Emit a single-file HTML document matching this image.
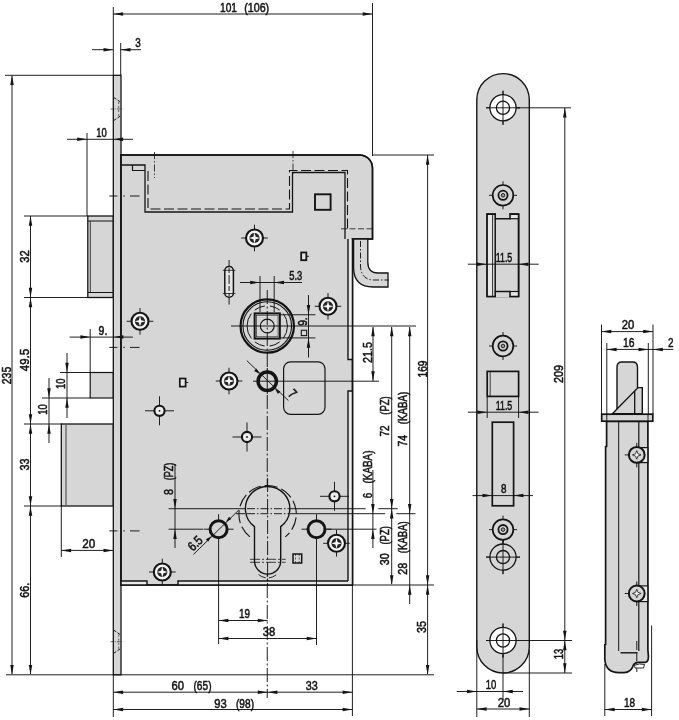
<!DOCTYPE html>
<html><head><meta charset="utf-8"><title>Lock drawing</title>
<style>
html,body{margin:0;padding:0;background:#fff;}
body{width:679px;height:720px;overflow:hidden;}
svg{display:block;filter:grayscale(1);}
text{font-family:"Liberation Sans",sans-serif;fill:#141414;stroke:#141414;stroke-width:0.55px;}
</style></head><body>
<svg width="679" height="720" viewBox="0 0 679 720">
<rect x="0" y="0" width="679" height="720" fill="#ffffff"/>
<rect x="87.8" y="216" width="25.5" height="81.5" rx="0" fill="#d6d6d6" stroke="#141414" stroke-width="1.3"/>
<line x1="88" y1="221" x2="113" y2="221" stroke="#141414" stroke-width="1.0" stroke-linecap="butt"/>
<line x1="88" y1="292.5" x2="113" y2="292.5" stroke="#141414" stroke-width="1.0" stroke-linecap="butt"/>
<line x1="90.3" y1="221" x2="90.3" y2="292.5" stroke="#141414" stroke-width="0.8" stroke-linecap="butt"/>
<rect x="90.2" y="372.5" width="23.099999999999994" height="25.5" rx="0" fill="#d6d6d6" stroke="#141414" stroke-width="1.2"/>
<rect x="61.3" y="424" width="52.0" height="82" rx="0" fill="#d6d6d6" stroke="#141414" stroke-width="1.3"/>
<line x1="66" y1="425" x2="66" y2="505" stroke="#141414" stroke-width="0.8" stroke-linecap="butt"/>
<rect x="113.3" y="75.3" width="7.700000000000003" height="599.5" rx="0" fill="#d6d6d6" stroke="#141414" stroke-width="1.3"/>
<path d="M121.0,155.0 L359.5,155.0 A13,13 0 0 1 372.5,168.0 L372.5,239 L352.5,239 L352.5,585.0 L121.0,585.0 Z" fill="#d6d6d6" stroke="#141414" stroke-width="1.5" stroke-linejoin="miter"/>
<rect x="348.0" y="239.5" width="4.5" height="120.0" fill="#e9e9e9"/>
<rect x="348.0" y="391" width="4.5" height="194.0" fill="#e9e9e9"/>
<rect x="121.0" y="581" width="26.0" height="4" fill="#e9e9e9"/>
<rect x="178" y="581" width="174.5" height="4" fill="#e9e9e9"/>
<path d="M348.0,239 L348.0,359.5 L352.5,359.5" fill="none" stroke="#141414" stroke-width="1.4" stroke-linejoin="miter"/>
<path d="M352.5,391 L348.0,391 L348.0,581" fill="none" stroke="#141414" stroke-width="1.4" stroke-linejoin="miter"/>
<path d="M121.0,581 L147,581 L147,585.0" fill="none" stroke="#141414" stroke-width="1.4" stroke-linejoin="miter"/>
<path d="M178,585.0 L178,581 L348.0,581" fill="none" stroke="#141414" stroke-width="1.4" stroke-linejoin="miter"/>
<path d="M121.0,155.0 L359.5,155.0 A13,13 0 0 1 372.5,168.0 L372.5,239 L352.5,239 L352.5,585.0 L121.0,585.0 Z" fill="none" stroke="#141414" stroke-width="1.5" stroke-linejoin="miter"/>
<path d="M121.0,165 L145,165 L145,212 L292.5,212 L292.5,172.5 L345,172.5 L345,239" fill="none" stroke="#141414" stroke-width="1.3" stroke-linejoin="miter"/>
<path d="M132.5,165 L132.5,170.5 L145,170.5" fill="none" stroke="#141414" stroke-width="1.2" stroke-linejoin="miter"/>
<path d="M148,171 L148,209 L289.5,209 L289.5,170.5 L347.5,170.5 L347.5,229" fill="none" stroke="#141414" stroke-width="1.1" stroke-dasharray="10 3.5" stroke-linejoin="miter"/>
<line x1="154.5" y1="152" x2="154.5" y2="178" stroke="#141414" stroke-width="0.8" stroke-dasharray="7 2 1.5 2" stroke-linecap="butt"/>
<line x1="293" y1="151" x2="293" y2="176" stroke="#141414" stroke-width="0.8" stroke-dasharray="7 2 1.5 2" stroke-linecap="butt"/>
<line x1="341" y1="228.8" x2="372" y2="228.8" stroke="#141414" stroke-width="0.8" stroke-dasharray="6 2.5" stroke-linecap="butt"/>
<path d="M353.6,239 L353.6,268 Q354,287 373,287 L388,287 L388,273 L378,273 Q367.8,273 367.8,262 L367.8,239 Z" fill="#d6d6d6" stroke="#141414" stroke-width="1.3" stroke-linejoin="miter"/>
<path d="M360.5,241 L360.5,266 Q361,280 374,280 L389,280" fill="none" stroke="#141414" stroke-width="0.95" stroke-dasharray="6 2 1.5 2" stroke-linejoin="miter"/>
<rect x="315" y="194.3" width="15.600000000000023" height="15.5" rx="0" fill="#d6d6d6" stroke="#141414" stroke-width="1.9"/>
<rect x="301.2" y="252.5" width="5.100000000000023" height="7.699999999999989" rx="0" fill="#e6e6e6" stroke="#141414" stroke-width="1.8"/>
<line x1="306.3" y1="256.3" x2="309" y2="256.3" stroke="#141414" stroke-width="0.95" stroke-linecap="butt"/>
<line x1="229.1" y1="260" x2="229.1" y2="304.6" stroke="#141414" stroke-width="0.95" stroke-linecap="butt"/>
<rect x="224.8" y="266.5" width="8.599999999999994" height="30.69999999999999" rx="4.3" fill="#e6e6e6" stroke="#141414" stroke-width="1.5"/>
<line x1="229.1" y1="268" x2="229.1" y2="296" stroke="#141414" stroke-width="0.95" stroke-dasharray="5 2 9 2 5 2" stroke-linecap="butt"/>
<line x1="222.8" y1="270.3" x2="235.4" y2="270.3" stroke="#141414" stroke-width="0.8" stroke-linecap="butt"/>
<line x1="222.8" y1="293.5" x2="235.4" y2="293.5" stroke="#141414" stroke-width="0.8" stroke-linecap="butt"/>
<line x1="241.2" y1="238" x2="267.8" y2="238" stroke="#141414" stroke-width="0.95" stroke-linecap="butt"/>
<line x1="254.5" y1="224.7" x2="254.5" y2="251.3" stroke="#141414" stroke-width="0.95" stroke-linecap="butt"/>
<circle cx="254.5" cy="238" r="8.5" fill="#f4f4f4" stroke="#141414" stroke-width="2.1"/>
<circle cx="254.5" cy="238" r="5.1" fill="#262626"/>
<path d="M254.5,232.6 L255.65,236.85 L259.9,238 L255.65,239.15 L254.5,243.4 L253.35,239.15 L249.1,238 L253.35,236.85 Z" fill="#fafafa"/>
<line x1="126.7" y1="321.3" x2="153.3" y2="321.3" stroke="#141414" stroke-width="0.95" stroke-linecap="butt"/>
<line x1="140" y1="308.0" x2="140" y2="334.6" stroke="#141414" stroke-width="0.95" stroke-linecap="butt"/>
<circle cx="140" cy="321.3" r="8.5" fill="#f4f4f4" stroke="#141414" stroke-width="2.1"/>
<circle cx="140" cy="321.3" r="5.1" fill="#262626"/>
<path d="M140,315.90000000000003 L141.15,320.15000000000003 L145.4,321.3 L141.15,322.45 L140,326.7 L138.85,322.45 L134.6,321.3 L138.85,320.15000000000003 Z" fill="#fafafa"/>
<line x1="314.7" y1="306.3" x2="341.3" y2="306.3" stroke="#141414" stroke-width="0.95" stroke-linecap="butt"/>
<line x1="328" y1="293.0" x2="328" y2="319.6" stroke="#141414" stroke-width="0.95" stroke-linecap="butt"/>
<circle cx="328" cy="306.3" r="8.5" fill="#f4f4f4" stroke="#141414" stroke-width="2.1"/>
<circle cx="328" cy="306.3" r="5.1" fill="#262626"/>
<path d="M328,300.90000000000003 L329.15,305.15000000000003 L333.4,306.3 L329.15,307.45 L328,311.7 L326.85,307.45 L322.6,306.3 L326.85,305.15000000000003 Z" fill="#fafafa"/>
<line x1="215.7" y1="381" x2="242.3" y2="381" stroke="#141414" stroke-width="0.95" stroke-linecap="butt"/>
<line x1="229" y1="367.7" x2="229" y2="394.3" stroke="#141414" stroke-width="0.95" stroke-linecap="butt"/>
<circle cx="229" cy="381" r="8.5" fill="#f4f4f4" stroke="#141414" stroke-width="2.1"/>
<circle cx="229" cy="381" r="5.1" fill="#262626"/>
<path d="M229,375.6 L230.15,379.85 L234.4,381 L230.15,382.15 L229,386.4 L227.85,382.15 L223.6,381 L227.85,379.85 Z" fill="#fafafa"/>
<line x1="323.2" y1="543.3" x2="349.8" y2="543.3" stroke="#141414" stroke-width="0.95" stroke-linecap="butt"/>
<line x1="336.5" y1="530.0" x2="336.5" y2="556.5999999999999" stroke="#141414" stroke-width="0.95" stroke-linecap="butt"/>
<circle cx="336.5" cy="543.3" r="8.5" fill="#f4f4f4" stroke="#141414" stroke-width="2.1"/>
<circle cx="336.5" cy="543.3" r="5.1" fill="#262626"/>
<path d="M336.5,537.9 L337.65,542.15 L341.9,543.3 L337.65,544.4499999999999 L336.5,548.6999999999999 L335.35,544.4499999999999 L331.1,543.3 L335.35,542.15 Z" fill="#fafafa"/>
<line x1="149.0" y1="572" x2="175.60000000000002" y2="572" stroke="#141414" stroke-width="0.95" stroke-linecap="butt"/>
<line x1="162.3" y1="558.7" x2="162.3" y2="585.3" stroke="#141414" stroke-width="0.95" stroke-linecap="butt"/>
<circle cx="162.3" cy="572" r="8.5" fill="#f4f4f4" stroke="#141414" stroke-width="2.1"/>
<circle cx="162.3" cy="572" r="5.1" fill="#262626"/>
<path d="M162.3,566.6 L163.45000000000002,570.85 L167.70000000000002,572 L163.45000000000002,573.15 L162.3,577.4 L161.15,573.15 L156.9,572 L161.15,570.85 Z" fill="#fafafa"/>
<circle cx="267.25" cy="326.0" r="26.7" fill="#d6d6d6" stroke="#141414" stroke-width="2.2"/>
<circle cx="267.25" cy="326.0" r="24.3" fill="none" stroke="#141414" stroke-width="1.1"/>
<path d="M283.17,313.56 A20.2,20.2 0 0 1 283.17,338.44" fill="none" stroke="#141414" stroke-width="1.0" stroke-linejoin="miter"/>
<path d="M279.69,341.92 A20.2,20.2 0 0 1 254.81,341.92" fill="none" stroke="#141414" stroke-width="1.0" stroke-dasharray="11 5" stroke-linejoin="miter"/>
<path d="M251.33,338.44 A20.2,20.2 0 0 1 251.33,313.56" fill="none" stroke="#141414" stroke-width="1.0" stroke-linejoin="miter"/>
<path d="M254.81,310.08 A20.2,20.2 0 0 1 279.69,310.08" fill="none" stroke="#141414" stroke-width="1.0" stroke-dasharray="11 5" stroke-linejoin="miter"/>
<rect x="254.65" y="313.4" width="25.200000000000017" height="25.200000000000045" rx="0" fill="#d6d6d6" stroke="#141414" stroke-width="2.0"/>
<rect x="256.45" y="315.2" width="21.600000000000023" height="21.600000000000023" rx="0" fill="none" stroke="#141414" stroke-width="0.6"/>
<circle cx="267.25" cy="326.0" r="6.9" fill="none" stroke="#141414" stroke-width="1.2"/>
<line x1="267.25" y1="290" x2="267.25" y2="698" stroke="#141414" stroke-width="0.95" stroke-dasharray="14 2.5 2 2.5" stroke-linecap="butt"/>
<line x1="231" y1="326.0" x2="416" y2="326.0" stroke="#141414" stroke-width="0.95" stroke-linecap="butt"/>
<rect x="283.6" y="361.8" width="41.39999999999998" height="52.5" rx="7" fill="#d6d6d6" stroke="#141414" stroke-width="1.2"/>
<circle cx="267.25" cy="381.2" r="9.2" fill="#d6d6d6" stroke="#141414" stroke-width="3.4"/>
<line x1="253" y1="381.2" x2="379" y2="381.2" stroke="#141414" stroke-width="0.95" stroke-linecap="butt"/>
<line x1="267.25" y1="368" x2="267.25" y2="394" stroke="#141414" stroke-width="0.95" stroke-linecap="butt"/>
<line x1="246.8" y1="360.6" x2="288.4" y2="400.6" stroke="#141414" stroke-width="0.95" stroke-linecap="butt"/>
<polygon points="259.65,373.90 254.15,370.96 256.51,368.51" fill="#141414"/>
<polygon points="274.85,388.50 280.35,391.44 277.99,393.89" fill="#141414"/>
<line x1="145.0" y1="410.8" x2="174.0" y2="410.8" stroke="#141414" stroke-width="0.95" stroke-linecap="butt"/>
<line x1="159.5" y1="396.3" x2="159.5" y2="425.3" stroke="#141414" stroke-width="0.95" stroke-linecap="butt"/>
<circle cx="159.5" cy="410.8" r="5.1" fill="#ececec" stroke="#141414" stroke-width="2.1"/>
<circle cx="159.5" cy="410.8" r="0.9" fill="#141414"/>
<line x1="232.5" y1="437" x2="261.5" y2="437" stroke="#141414" stroke-width="0.95" stroke-linecap="butt"/>
<line x1="247" y1="422.5" x2="247" y2="451.5" stroke="#141414" stroke-width="0.95" stroke-linecap="butt"/>
<circle cx="247" cy="437" r="5.1" fill="#ececec" stroke="#141414" stroke-width="2.1"/>
<circle cx="247" cy="437" r="0.9" fill="#141414"/>
<line x1="320.0" y1="496.3" x2="349.0" y2="496.3" stroke="#141414" stroke-width="0.95" stroke-linecap="butt"/>
<line x1="334.5" y1="481.8" x2="334.5" y2="510.8" stroke="#141414" stroke-width="0.95" stroke-linecap="butt"/>
<circle cx="334.5" cy="496.3" r="5.1" fill="#ececec" stroke="#141414" stroke-width="2.1"/>
<circle cx="334.5" cy="496.3" r="0.9" fill="#141414"/>
<rect x="179.8" y="378.5" width="5.799999999999983" height="8.100000000000023" rx="0" fill="#e6e6e6" stroke="#141414" stroke-width="1.7"/>
<line x1="185.6" y1="382.5" x2="188.3" y2="382.5" stroke="#141414" stroke-width="0.95" stroke-linecap="butt"/>
<rect x="293" y="554" width="8.699999999999989" height="9" rx="0" fill="#d6d6d6" stroke="#141414" stroke-width="1.5"/>
<line x1="295.5" y1="554" x2="295.5" y2="563" stroke="#141414" stroke-width="0.6" stroke-dasharray="2 1.5" stroke-linecap="butt"/>
<line x1="299.2" y1="554" x2="299.2" y2="563" stroke="#141414" stroke-width="0.6" stroke-dasharray="2 1.5" stroke-linecap="butt"/>
<path d="M254.50,526.62 A22.2,22.2 0 1 1 280.70,526.62 L280.70,561.0 A13.1,13.1 0 0 1 254.50,561.0 Z" fill="#d6d6d6" stroke="#141414" stroke-width="1.4" stroke-linejoin="miter"/>
<path d="M249.93,536.82 A28.7,28.7 0 1 1 285.27,536.82" fill="none" stroke="#141414" stroke-width="1.1" stroke-dasharray="13 4" stroke-linejoin="miter"/>
<path d="M258.6,574.5 A 13.5 13.5 0 0 0 276.6,574.5" fill="none" stroke="#141414" stroke-width="0.9" stroke-dasharray="8 3" stroke-linejoin="miter"/>
<line x1="250" y1="559.3" x2="285.6" y2="559.3" stroke="#141414" stroke-width="0.8" stroke-dasharray="10 2 2 2" stroke-linecap="butt"/>
<line x1="250" y1="562.3" x2="285.6" y2="562.3" stroke="#141414" stroke-width="0.8" stroke-dasharray="10 2 2 2" stroke-linecap="butt"/>
<line x1="267.6" y1="478" x2="267.6" y2="586" stroke="#141414" stroke-width="0.95" stroke-dasharray="14 2.5 2 2.5" stroke-linecap="butt"/>
<line x1="203.6" y1="529.2" x2="233.6" y2="529.2" stroke="#141414" stroke-width="0.95" stroke-linecap="butt"/>
<line x1="218.6" y1="514.2" x2="218.6" y2="544.2" stroke="#141414" stroke-width="0.95" stroke-linecap="butt"/>
<circle cx="218.6" cy="529.2" r="8.5" fill="#d6d6d6" stroke="#141414" stroke-width="3.0"/>
<line x1="301.5" y1="529.2" x2="331.5" y2="529.2" stroke="#141414" stroke-width="0.95" stroke-linecap="butt"/>
<line x1="316.5" y1="514.2" x2="316.5" y2="544.2" stroke="#141414" stroke-width="0.95" stroke-linecap="butt"/>
<circle cx="316.5" cy="529.2" r="8.5" fill="#d6d6d6" stroke="#141414" stroke-width="3.0"/>
<line x1="168.6" y1="508.7" x2="245" y2="508.7" stroke="#141414" stroke-width="0.95" stroke-linecap="butt"/>
<line x1="290" y1="508.7" x2="365.7" y2="508.7" stroke="#141414" stroke-width="0.95" stroke-linecap="butt"/>
<line x1="247" y1="508.7" x2="289" y2="508.7" stroke="#141414" stroke-width="0.95" stroke-dasharray="8 2 1.5 2" stroke-linecap="butt"/>
<line x1="378.3" y1="508.7" x2="397.7" y2="508.7" stroke="#141414" stroke-width="0.95" stroke-linecap="butt"/>
<line x1="236" y1="513.7" x2="245" y2="513.7" stroke="#141414" stroke-width="0.95" stroke-linecap="butt"/>
<line x1="290" y1="513.7" x2="385.3" y2="513.7" stroke="#141414" stroke-width="0.95" stroke-linecap="butt"/>
<line x1="396.3" y1="513.7" x2="415.4" y2="513.7" stroke="#141414" stroke-width="0.95" stroke-linecap="butt"/>
<line x1="247" y1="513.7" x2="289" y2="513.7" stroke="#141414" stroke-width="0.95" stroke-dasharray="8 2 1.5 2" stroke-linecap="butt"/>
<line x1="168.6" y1="529.2" x2="203" y2="529.2" stroke="#141414" stroke-width="0.95" stroke-linecap="butt"/>
<line x1="327" y1="529.2" x2="376.5" y2="529.2" stroke="#141414" stroke-width="0.95" stroke-linecap="butt"/>
<line x1="110.5" y1="109" x2="123.5" y2="109" stroke="#141414" stroke-width="0.6" stroke-dasharray="3 1.2 1 1.2" stroke-linecap="butt"/>
<line x1="113.8" y1="97.5" x2="120.4" y2="102" stroke="#141414" stroke-width="1.0" stroke-dasharray="3 1.5" stroke-linecap="butt"/>
<line x1="113.8" y1="120.5" x2="120.4" y2="116" stroke="#141414" stroke-width="1.0" stroke-dasharray="3 1.5" stroke-linecap="butt"/>
<line x1="118.7" y1="102" x2="118.7" y2="116" stroke="#141414" stroke-width="0.6" stroke-dasharray="2 2" stroke-linecap="butt"/>
<line x1="110.5" y1="641.7" x2="123.5" y2="641.7" stroke="#141414" stroke-width="0.6" stroke-dasharray="3 1.2 1 1.2" stroke-linecap="butt"/>
<line x1="113.8" y1="630.2" x2="120.4" y2="634.7" stroke="#141414" stroke-width="1.0" stroke-dasharray="3 1.5" stroke-linecap="butt"/>
<line x1="113.8" y1="653.2" x2="120.4" y2="648.7" stroke="#141414" stroke-width="1.0" stroke-dasharray="3 1.5" stroke-linecap="butt"/>
<line x1="118.7" y1="634.7" x2="118.7" y2="648.7" stroke="#141414" stroke-width="0.6" stroke-dasharray="2 2" stroke-linecap="butt"/>
<line x1="109.3" y1="196" x2="117.4" y2="196" stroke="#141414" stroke-width="0.95" stroke-linecap="butt"/>
<line x1="123.3" y1="196" x2="124.8" y2="196" stroke="#141414" stroke-width="0.95" stroke-linecap="butt"/>
<line x1="130" y1="196" x2="139.5" y2="196" stroke="#141414" stroke-width="0.95" stroke-linecap="butt"/>
<line x1="109.3" y1="347.4" x2="117.4" y2="347.4" stroke="#141414" stroke-width="0.95" stroke-linecap="butt"/>
<line x1="123.3" y1="347.4" x2="124.8" y2="347.4" stroke="#141414" stroke-width="0.95" stroke-linecap="butt"/>
<line x1="130" y1="347.4" x2="139.5" y2="347.4" stroke="#141414" stroke-width="0.95" stroke-linecap="butt"/>
<line x1="109.3" y1="530.9" x2="117.4" y2="530.9" stroke="#141414" stroke-width="0.95" stroke-linecap="butt"/>
<line x1="123.3" y1="530.9" x2="124.8" y2="530.9" stroke="#141414" stroke-width="0.95" stroke-linecap="butt"/>
<line x1="130" y1="530.9" x2="139.5" y2="530.9" stroke="#141414" stroke-width="0.95" stroke-linecap="butt"/>
<line x1="113.3" y1="7" x2="113.3" y2="75" stroke="#141414" stroke-width="0.95" stroke-linecap="butt"/>
<line x1="372.5" y1="3" x2="372.5" y2="156" stroke="#141414" stroke-width="0.95" stroke-linecap="butt"/>
<line x1="113.3" y1="14" x2="372.5" y2="14" stroke="#141414" stroke-width="0.95" stroke-linecap="butt"/>
<polygon points="113.30,14.00 123.10,12.25 123.10,15.75" fill="#141414"/>
<polygon points="372.50,14.00 362.70,15.75 362.70,12.25" fill="#141414"/>
<text x="228.5" y="11.5" font-size="13.2" text-anchor="middle" textLength="17" lengthAdjust="spacingAndGlyphs" xml:space="preserve">101</text>
<text x="256.7" y="11.5" font-size="13.2" text-anchor="middle" textLength="25" lengthAdjust="spacingAndGlyphs" xml:space="preserve">(106)</text>
<line x1="120.7" y1="43" x2="120.7" y2="75" stroke="#141414" stroke-width="0.95" stroke-linecap="butt"/>
<line x1="92" y1="49.7" x2="113" y2="49.7" stroke="#141414" stroke-width="0.95" stroke-linecap="butt"/>
<line x1="120.7" y1="49.7" x2="141" y2="49.7" stroke="#141414" stroke-width="0.95" stroke-linecap="butt"/>
<polygon points="113.30,49.70 103.50,51.45 103.50,47.95" fill="#141414"/>
<polygon points="120.70,49.70 130.50,47.95 130.50,51.45" fill="#141414"/>
<text x="138" y="46.5" font-size="13.2" text-anchor="middle" textLength="5.5" lengthAdjust="spacingAndGlyphs" xml:space="preserve">3</text>
<line x1="5" y1="75.3" x2="113" y2="75.3" stroke="#141414" stroke-width="0.95" stroke-linecap="butt"/>
<line x1="6" y1="674.8" x2="434" y2="674.8" stroke="#141414" stroke-width="0.95" stroke-linecap="butt"/>
<line x1="12" y1="76" x2="12" y2="674" stroke="#141414" stroke-width="0.95" stroke-linecap="butt"/>
<polygon points="12.00,75.30 13.75,85.10 10.25,85.10" fill="#141414"/>
<polygon points="12.00,674.80 10.25,665.00 13.75,665.00" fill="#141414"/>
<text x="11.0" y="375.5" font-size="13.2" text-anchor="middle" transform="rotate(-90 11.0 375.5)" textLength="17.5" lengthAdjust="spacingAndGlyphs" xml:space="preserve">235</text>
<line x1="87" y1="133" x2="87" y2="216" stroke="#141414" stroke-width="0.95" stroke-linecap="butt"/>
<line x1="67" y1="139.3" x2="133" y2="139.3" stroke="#141414" stroke-width="0.95" stroke-linecap="butt"/>
<polygon points="87.00,139.30 77.20,141.05 77.20,137.55" fill="#141414"/>
<circle cx="121" cy="139.3" r="1.6" fill="#141414"/>
<polygon points="113.30,139.30 123.10,137.55 123.10,141.05" fill="#141414"/>
<text x="101.5" y="137" font-size="13.2" text-anchor="middle" textLength="10.5" lengthAdjust="spacingAndGlyphs" xml:space="preserve">10</text>
<line x1="24" y1="216" x2="88" y2="216" stroke="#141414" stroke-width="0.95" stroke-linecap="butt"/>
<line x1="24" y1="297.5" x2="88" y2="297.5" stroke="#141414" stroke-width="0.95" stroke-linecap="butt"/>
<line x1="30.5" y1="216" x2="30.5" y2="674" stroke="#141414" stroke-width="0.95" stroke-linecap="butt"/>
<polygon points="30.50,216.00 32.25,225.80 28.75,225.80" fill="#141414"/>
<polygon points="30.50,297.50 28.75,287.70 32.25,287.70" fill="#141414"/>
<polygon points="30.50,297.50 32.25,307.30 28.75,307.30" fill="#141414"/>
<text x="28.8" y="256.5" font-size="13.2" text-anchor="middle" transform="rotate(-90 28.8 256.5)" textLength="12.5" lengthAdjust="spacingAndGlyphs" xml:space="preserve">32</text>
<polygon points="30.50,424.00 28.75,414.20 32.25,414.20" fill="#141414"/>
<polygon points="30.50,424.00 32.25,433.80 28.75,433.80" fill="#141414"/>
<polygon points="30.50,506.00 28.75,496.20 32.25,496.20" fill="#141414"/>
<polygon points="30.50,506.00 32.25,515.80 28.75,515.80" fill="#141414"/>
<polygon points="30.50,674.80 28.75,665.00 32.25,665.00" fill="#141414"/>
<line x1="24" y1="424" x2="62" y2="424" stroke="#141414" stroke-width="0.95" stroke-linecap="butt"/>
<line x1="24" y1="506" x2="62" y2="506" stroke="#141414" stroke-width="0.95" stroke-linecap="butt"/>
<text x="28.8" y="360" font-size="13.2" text-anchor="middle" transform="rotate(-90 28.8 360)" textLength="22.5" lengthAdjust="spacingAndGlyphs" xml:space="preserve">49.5</text>
<text x="28.8" y="464.6" font-size="13.2" text-anchor="middle" transform="rotate(-90 28.8 464.6)" textLength="12" lengthAdjust="spacingAndGlyphs" xml:space="preserve">33</text>
<text x="28.8" y="590.3" font-size="13.2" text-anchor="middle" transform="rotate(-90 28.8 590.3)" textLength="15" lengthAdjust="spacingAndGlyphs" xml:space="preserve">66.</text>
<line x1="90.2" y1="329" x2="90.2" y2="372" stroke="#141414" stroke-width="0.95" stroke-linecap="butt"/>
<line x1="69.6" y1="337.1" x2="132.9" y2="337.1" stroke="#141414" stroke-width="0.95" stroke-linecap="butt"/>
<polygon points="90.20,337.10 80.40,338.85 80.40,335.35" fill="#141414"/>
<polygon points="113.60,337.10 123.40,335.35 123.40,338.85" fill="#141414"/>
<text x="103" y="335.3" font-size="13.2" text-anchor="middle" textLength="8.8" lengthAdjust="spacingAndGlyphs" xml:space="preserve">9.</text>
<line x1="60" y1="372.5" x2="90" y2="372.5" stroke="#141414" stroke-width="0.95" stroke-linecap="butt"/>
<line x1="42" y1="398" x2="90" y2="398" stroke="#141414" stroke-width="0.95" stroke-linecap="butt"/>
<line x1="67" y1="353" x2="67" y2="418" stroke="#141414" stroke-width="0.95" stroke-linecap="butt"/>
<polygon points="67.00,372.50 65.25,362.70 68.75,362.70" fill="#141414"/>
<polygon points="67.00,398.00 68.75,407.80 65.25,407.80" fill="#141414"/>
<line x1="49" y1="378" x2="49" y2="443" stroke="#141414" stroke-width="0.95" stroke-linecap="butt"/>
<polygon points="49.00,398.00 47.25,388.20 50.75,388.20" fill="#141414"/>
<polygon points="49.00,424.00 50.75,433.80 47.25,433.80" fill="#141414"/>
<text x="65.3" y="383.8" font-size="13.2" text-anchor="middle" transform="rotate(-90 65.3 383.8)" textLength="10.5" lengthAdjust="spacingAndGlyphs" xml:space="preserve">10</text>
<text x="47.2" y="409.5" font-size="13.2" text-anchor="middle" transform="rotate(-90 47.2 409.5)" textLength="10.5" lengthAdjust="spacingAndGlyphs" xml:space="preserve">10</text>
<line x1="61.3" y1="506" x2="61.3" y2="557" stroke="#141414" stroke-width="0.95" stroke-linecap="butt"/>
<line x1="61.3" y1="550.4" x2="113.3" y2="550.4" stroke="#141414" stroke-width="0.95" stroke-linecap="butt"/>
<polygon points="61.30,550.40 71.10,548.65 71.10,552.15" fill="#141414"/>
<polygon points="113.30,550.40 103.50,552.15 103.50,548.65" fill="#141414"/>
<text x="88.7" y="548.2" font-size="13.2" text-anchor="middle" textLength="13" lengthAdjust="spacingAndGlyphs" xml:space="preserve">20</text>
<line x1="260" y1="276" x2="260" y2="312" stroke="#141414" stroke-width="0.95" stroke-linecap="butt"/>
<line x1="274.2" y1="276" x2="274.2" y2="312" stroke="#141414" stroke-width="0.95" stroke-linecap="butt"/>
<line x1="240" y1="282.5" x2="302" y2="282.5" stroke="#141414" stroke-width="0.95" stroke-linecap="butt"/>
<polygon points="260.00,282.50 250.20,284.25 250.20,280.75" fill="#141414"/>
<polygon points="274.20,282.50 284.00,280.75 284.00,284.25" fill="#141414"/>
<text x="295.8" y="280" font-size="13.2" text-anchor="middle" textLength="13" lengthAdjust="spacingAndGlyphs" xml:space="preserve">5.3</text>
<line x1="280" y1="314.75" x2="315.4" y2="314.75" stroke="#141414" stroke-width="0.95" stroke-linecap="butt"/>
<line x1="280" y1="337.9" x2="315.4" y2="337.9" stroke="#141414" stroke-width="0.95" stroke-linecap="butt"/>
<line x1="308.5" y1="295" x2="308.5" y2="357.5" stroke="#141414" stroke-width="0.95" stroke-linecap="butt"/>
<polygon points="308.50,314.75 306.75,304.95 310.25,304.95" fill="#141414"/>
<polygon points="308.50,337.90 310.25,347.70 306.75,347.70" fill="#141414"/>
<text x="307.0" y="325.8" font-size="13.2" text-anchor="start" transform="rotate(-90 307.0 325.8)" textLength="8.5" lengthAdjust="spacingAndGlyphs" xml:space="preserve">9.</text>
<rect x="301.3" y="330.3" width="5.399999999999977" height="5.300000000000011" rx="0" fill="none" stroke="#141414" stroke-width="1.1"/>
<text x="289.3" y="396.8" font-size="13.2" text-anchor="middle" transform="rotate(45 289.3 396.8)" textLength="6" lengthAdjust="spacingAndGlyphs" xml:space="preserve">7</text>
<line x1="373" y1="327" x2="373" y2="381" stroke="#141414" stroke-width="0.95" stroke-linecap="butt"/>
<polygon points="373.00,326.50 374.75,336.30 371.25,336.30" fill="#141414"/>
<polygon points="373.00,381.00 371.25,371.20 374.75,371.20" fill="#141414"/>
<text x="371.5" y="352.5" font-size="13.2" text-anchor="middle" transform="rotate(-90 371.5 352.5)" textLength="21" lengthAdjust="spacingAndGlyphs" xml:space="preserve">21.5</text>
<line x1="391.7" y1="327" x2="391.7" y2="584" stroke="#141414" stroke-width="0.95" stroke-linecap="butt"/>
<polygon points="391.70,326.50 393.45,336.30 389.95,336.30" fill="#141414"/>
<polygon points="391.70,508.70 389.95,498.90 393.45,498.90" fill="#141414"/>
<polygon points="391.70,508.70 393.45,518.50 389.95,518.50" fill="#141414"/>
<polygon points="391.70,585.00 389.95,575.20 393.45,575.20" fill="#141414"/>
<line x1="409.7" y1="327" x2="409.7" y2="604" stroke="#141414" stroke-width="0.95" stroke-linecap="butt"/>
<polygon points="409.70,326.50 411.45,336.30 407.95,336.30" fill="#141414"/>
<polygon points="409.70,513.70 407.95,503.90 411.45,503.90" fill="#141414"/>
<polygon points="409.70,585.00 411.45,594.80 407.95,594.80" fill="#141414"/>
<line x1="373" y1="155" x2="434" y2="155" stroke="#141414" stroke-width="0.95" stroke-linecap="butt"/>
<line x1="352" y1="585" x2="434" y2="585" stroke="#141414" stroke-width="0.95" stroke-linecap="butt"/>
<line x1="427.6" y1="155" x2="427.6" y2="674" stroke="#141414" stroke-width="0.95" stroke-linecap="butt"/>
<polygon points="427.60,155.00 429.35,164.80 425.85,164.80" fill="#141414"/>
<polygon points="427.60,585.00 425.85,575.20 429.35,575.20" fill="#141414"/>
<polygon points="427.60,585.00 429.35,594.80 425.85,594.80" fill="#141414"/>
<polygon points="427.60,674.80 425.85,665.00 429.35,665.00" fill="#141414"/>
<text x="426.5" y="369" font-size="13.2" text-anchor="middle" transform="rotate(-90 426.5 369)" textLength="17" lengthAdjust="spacingAndGlyphs" xml:space="preserve">169</text>
<text x="389.3" y="431" font-size="13.2" text-anchor="middle" transform="rotate(-90 389.3 431)" textLength="11" lengthAdjust="spacingAndGlyphs" xml:space="preserve">72</text>
<text x="389.3" y="405.5" font-size="13.2" text-anchor="middle" transform="rotate(-90 389.3 405.5)" textLength="18.5" lengthAdjust="spacingAndGlyphs" xml:space="preserve">(PZ)</text>
<text x="407.3" y="440.7" font-size="13.2" text-anchor="middle" transform="rotate(-90 407.3 440.7)" textLength="11.5" lengthAdjust="spacingAndGlyphs" xml:space="preserve">74</text>
<text x="407.3" y="408" font-size="13.2" text-anchor="middle" transform="rotate(-90 407.3 408)" textLength="32.5" lengthAdjust="spacingAndGlyphs" xml:space="preserve">(KABA)</text>
<line x1="372.9" y1="470" x2="372.9" y2="548" stroke="#141414" stroke-width="0.95" stroke-linecap="butt"/>
<polygon points="372.90,513.70 371.15,503.90 374.65,503.90" fill="#141414"/>
<polygon points="372.90,529.20 374.65,539.00 371.15,539.00" fill="#141414"/>
<text x="371.5" y="495.5" font-size="13.2" text-anchor="middle" transform="rotate(-90 371.5 495.5)" textLength="5.5" lengthAdjust="spacingAndGlyphs" xml:space="preserve">6</text>
<text x="371.5" y="467" font-size="13.2" text-anchor="middle" transform="rotate(-90 371.5 467)" textLength="33" lengthAdjust="spacingAndGlyphs" xml:space="preserve">(KABA)</text>
<text x="389.3" y="559.3" font-size="13.2" text-anchor="middle" transform="rotate(-90 389.3 559.3)" textLength="12" lengthAdjust="spacingAndGlyphs" xml:space="preserve">30</text>
<text x="389.3" y="535.3" font-size="13.2" text-anchor="middle" transform="rotate(-90 389.3 535.3)" textLength="18.5" lengthAdjust="spacingAndGlyphs" xml:space="preserve">(PZ)</text>
<text x="407.3" y="568.7" font-size="13.2" text-anchor="middle" transform="rotate(-90 407.3 568.7)" textLength="12" lengthAdjust="spacingAndGlyphs" xml:space="preserve">28</text>
<text x="407.3" y="537.2" font-size="13.2" text-anchor="middle" transform="rotate(-90 407.3 537.2)" textLength="32" lengthAdjust="spacingAndGlyphs" xml:space="preserve">(KABA)</text>
<text x="425.5" y="627" font-size="13.2" text-anchor="middle" transform="rotate(-90 425.5 627)" textLength="12" lengthAdjust="spacingAndGlyphs" xml:space="preserve">35</text>
<line x1="175" y1="464" x2="175" y2="548" stroke="#141414" stroke-width="0.95" stroke-linecap="butt"/>
<polygon points="175.00,508.80 173.25,499.00 176.75,499.00" fill="#141414"/>
<polygon points="175.00,529.20 176.75,539.00 173.25,539.00" fill="#141414"/>
<text x="172.7" y="492" font-size="13.2" text-anchor="middle" transform="rotate(-90 172.7 492)" textLength="6" lengthAdjust="spacingAndGlyphs" xml:space="preserve">8</text>
<text x="172.7" y="471.5" font-size="13.2" text-anchor="middle" transform="rotate(-90 172.7 471.5)" textLength="17.5" lengthAdjust="spacingAndGlyphs" xml:space="preserve">(PZ)</text>
<line x1="193.4" y1="554.5" x2="238.8" y2="510" stroke="#141414" stroke-width="0.95" stroke-linecap="butt"/>
<polygon points="211.30,536.30 208.20,541.71 205.82,539.28" fill="#141414"/>
<polygon points="225.90,522.10 229.00,516.69 231.38,519.12" fill="#141414"/>
<text x="198.3" y="546.5" font-size="13.2" text-anchor="middle" transform="rotate(-44.4 198.3 546.5)" textLength="15" lengthAdjust="spacingAndGlyphs" xml:space="preserve">6.5</text>
<line x1="218.6" y1="544" x2="218.6" y2="644" stroke="#141414" stroke-width="0.95" stroke-linecap="butt"/>
<line x1="316.5" y1="544" x2="316.5" y2="645" stroke="#141414" stroke-width="0.95" stroke-linecap="butt"/>
<line x1="218.6" y1="620.5" x2="267.6" y2="620.5" stroke="#141414" stroke-width="0.95" stroke-linecap="butt"/>
<polygon points="218.60,620.50 228.40,618.75 228.40,622.25" fill="#141414"/>
<polygon points="267.60,620.50 257.80,622.25 257.80,618.75" fill="#141414"/>
<line x1="218.6" y1="638.5" x2="316.5" y2="638.5" stroke="#141414" stroke-width="0.95" stroke-linecap="butt"/>
<polygon points="218.60,638.50 228.40,636.75 228.40,640.25" fill="#141414"/>
<polygon points="316.50,638.50 306.70,640.25 306.70,636.75" fill="#141414"/>
<text x="244.5" y="618.3" font-size="13.2" text-anchor="middle" textLength="11" lengthAdjust="spacingAndGlyphs" xml:space="preserve">19</text>
<text x="269" y="636.3" font-size="13.2" text-anchor="middle" textLength="12.5" lengthAdjust="spacingAndGlyphs" xml:space="preserve">38</text>
<line x1="113.3" y1="675" x2="113.3" y2="717" stroke="#141414" stroke-width="0.95" stroke-linecap="butt"/>
<line x1="352.4" y1="585" x2="352.4" y2="716" stroke="#141414" stroke-width="0.95" stroke-linecap="butt"/>
<line x1="113.3" y1="692.2" x2="352.4" y2="692.2" stroke="#141414" stroke-width="0.95" stroke-linecap="butt"/>
<polygon points="113.30,692.20 123.10,690.45 123.10,693.95" fill="#141414"/>
<polygon points="267.60,692.20 257.80,693.95 257.80,690.45" fill="#141414"/>
<polygon points="267.60,692.20 277.40,690.45 277.40,693.95" fill="#141414"/>
<polygon points="352.40,692.20 342.60,693.95 342.60,690.45" fill="#141414"/>
<line x1="113.3" y1="709.5" x2="352.4" y2="709.5" stroke="#141414" stroke-width="0.95" stroke-linecap="butt"/>
<polygon points="113.30,709.50 123.10,707.75 123.10,711.25" fill="#141414"/>
<polygon points="352.40,709.50 342.60,711.25 342.60,707.75" fill="#141414"/>
<text x="177.7" y="689.8" font-size="13.2" text-anchor="middle" textLength="12.5" lengthAdjust="spacingAndGlyphs" xml:space="preserve">60</text>
<text x="202.5" y="689.8" font-size="13.2" text-anchor="middle" textLength="18" lengthAdjust="spacingAndGlyphs" xml:space="preserve">(65)</text>
<text x="311.8" y="689.8" font-size="13.2" text-anchor="middle" textLength="12" lengthAdjust="spacingAndGlyphs" xml:space="preserve">33</text>
<text x="220.5" y="707.5" font-size="13.2" text-anchor="middle" textLength="12.5" lengthAdjust="spacingAndGlyphs" xml:space="preserve">93</text>
<text x="245" y="707.5" font-size="13.2" text-anchor="middle" textLength="18" lengthAdjust="spacingAndGlyphs" xml:space="preserve">(98)</text>
<path d="M476.8,99.84999999999997 A26.24999999999997,26.24999999999997 0 0 1 529.3,99.84999999999997 L529.3,646.75 A26.24999999999997,26.24999999999997 0 0 1 476.8,646.75 Z" fill="#d6d6d6" stroke="#141414" stroke-width="1.4" stroke-linejoin="miter"/>
<line x1="486.0" y1="107.8" x2="520.0" y2="107.8" stroke="#141414" stroke-width="0.95" stroke-linecap="butt"/>
<line x1="503.0" y1="90.8" x2="503.0" y2="124.8" stroke="#141414" stroke-width="0.95" stroke-linecap="butt"/>
<circle cx="503.0" cy="107.8" r="13.1" fill="#ffffff" stroke="#141414" stroke-width="1.3"/>
<circle cx="503.0" cy="107.8" r="6.6" fill="#ffffff" stroke="#141414" stroke-width="1.3"/>
<line x1="486.0" y1="107.8" x2="520.0" y2="107.8" stroke="#141414" stroke-width="0.95" stroke-linecap="butt"/>
<line x1="503.0" y1="90.8" x2="503.0" y2="124.8" stroke="#141414" stroke-width="0.95" stroke-linecap="butt"/>
<line x1="486.0" y1="557.1" x2="520.0" y2="557.1" stroke="#141414" stroke-width="0.95" stroke-linecap="butt"/>
<line x1="503.0" y1="540.1" x2="503.0" y2="574.1" stroke="#141414" stroke-width="0.95" stroke-linecap="butt"/>
<circle cx="503.0" cy="557.1" r="13.1" fill="#d6d6d6" stroke="#141414" stroke-width="1.3"/>
<circle cx="503.0" cy="557.1" r="6.6" fill="#d6d6d6" stroke="#141414" stroke-width="1.3"/>
<line x1="486.0" y1="557.1" x2="520.0" y2="557.1" stroke="#141414" stroke-width="0.95" stroke-linecap="butt"/>
<line x1="503.0" y1="540.1" x2="503.0" y2="574.1" stroke="#141414" stroke-width="0.95" stroke-linecap="butt"/>
<line x1="486.0" y1="640.5" x2="520.0" y2="640.5" stroke="#141414" stroke-width="0.95" stroke-linecap="butt"/>
<line x1="503.0" y1="623.5" x2="503.0" y2="657.5" stroke="#141414" stroke-width="0.95" stroke-linecap="butt"/>
<circle cx="503.0" cy="640.5" r="13.1" fill="#ffffff" stroke="#141414" stroke-width="1.3"/>
<circle cx="503.0" cy="640.5" r="6.6" fill="#ffffff" stroke="#141414" stroke-width="1.3"/>
<line x1="486.0" y1="640.5" x2="520.0" y2="640.5" stroke="#141414" stroke-width="0.95" stroke-linecap="butt"/>
<line x1="503.0" y1="623.5" x2="503.0" y2="657.5" stroke="#141414" stroke-width="0.95" stroke-linecap="butt"/>
<line x1="489.0" y1="195.3" x2="517.0" y2="195.3" stroke="#141414" stroke-width="0.95" stroke-linecap="butt"/>
<line x1="503.0" y1="181.3" x2="503.0" y2="209.3" stroke="#141414" stroke-width="0.95" stroke-linecap="butt"/>
<circle cx="503.0" cy="195.3" r="10.3" fill="#d6d6d6" stroke="#141414" stroke-width="1.7"/>
<circle cx="503.0" cy="195.3" r="4.6" fill="#d6d6d6" stroke="#141414" stroke-width="1.8"/>
<circle cx="503.0" cy="195.3" r="1.8" fill="#999" stroke="#141414" stroke-width="0.9"/>
<line x1="489.0" y1="346" x2="517.0" y2="346" stroke="#141414" stroke-width="0.95" stroke-linecap="butt"/>
<line x1="503.0" y1="332" x2="503.0" y2="360" stroke="#141414" stroke-width="0.95" stroke-linecap="butt"/>
<circle cx="503.0" cy="346" r="10.3" fill="#d6d6d6" stroke="#141414" stroke-width="1.7"/>
<circle cx="503.0" cy="346" r="4.6" fill="#d6d6d6" stroke="#141414" stroke-width="1.8"/>
<circle cx="503.0" cy="346" r="1.8" fill="#999" stroke="#141414" stroke-width="0.9"/>
<line x1="489.0" y1="529.6" x2="517.0" y2="529.6" stroke="#141414" stroke-width="0.95" stroke-linecap="butt"/>
<line x1="503.0" y1="515.6" x2="503.0" y2="543.6" stroke="#141414" stroke-width="0.95" stroke-linecap="butt"/>
<circle cx="503.0" cy="529.6" r="10.3" fill="#d6d6d6" stroke="#141414" stroke-width="1.7"/>
<circle cx="503.0" cy="529.6" r="4.6" fill="#d6d6d6" stroke="#141414" stroke-width="1.8"/>
<circle cx="503.0" cy="529.6" r="1.8" fill="#999" stroke="#141414" stroke-width="0.9"/>
<rect x="487.1" y="214.1" width="31.5" height="82.4" rx="0" fill="#d6d6d6" stroke="#141414" stroke-width="1.5"/>
<rect x="487.1" y="214.1" width="8.1" height="82.4" fill="#e6e6e6"/>
<rect x="495.2" y="214.1" width="14.8" height="4.6" fill="#d6d6d6" stroke="none"/>
<rect x="495.2" y="291.6" width="14.8" height="4.9" fill="#d6d6d6" stroke="none"/>
<rect x="510" y="214.1" width="8.6" height="4.6" fill="#e6e6e6"/>
<rect x="510" y="291.6" width="8.6" height="4.9" fill="#e6e6e6"/>
<rect x="495.9" y="213" width="13.4" height="5" fill="#d6d6d6"/>
<rect x="495.9" y="292.3" width="13.4" height="5" fill="#d6d6d6"/>
<path d="M487.1,214.1 L495.2,214.1 L495.2,218.7 L510,218.7 L510,214.1 L518.6,214.1 L518.6,296.5 L510,296.5 L510,291.5 L495.2,291.5 L495.2,296.5 L487.1,296.5 Z" fill="none" stroke="#141414" stroke-width="1.6" stroke-linejoin="miter"/>
<line x1="492.6" y1="215" x2="492.6" y2="296" stroke="#141414" stroke-width="0.9" stroke-linecap="butt"/>
<line x1="495.2" y1="218.7" x2="495.2" y2="291.5" stroke="#141414" stroke-width="1.5" stroke-linecap="butt"/>
<line x1="510" y1="218.7" x2="518.6" y2="218.7" stroke="#141414" stroke-width="1.2" stroke-linecap="butt"/>
<line x1="510" y1="291.5" x2="518.6" y2="291.5" stroke="#141414" stroke-width="1.2" stroke-linecap="butt"/>
<rect x="487.2" y="371.4" width="31.400000000000034" height="25.0" rx="0" fill="#d6d6d6" stroke="#141414" stroke-width="1.7"/>
<line x1="490.2" y1="372" x2="490.2" y2="396" stroke="#141414" stroke-width="0.8" stroke-linecap="butt"/>
<rect x="492.3" y="422.2" width="21.30000000000001" height="83.60000000000002" rx="0" fill="#d6d6d6" stroke="#141414" stroke-width="1.7"/>
<line x1="467.8" y1="264.2" x2="538.6" y2="264.2" stroke="#141414" stroke-width="0.95" stroke-linecap="butt"/>
<polygon points="486.80,264.20 477.00,265.95 477.00,262.45" fill="#141414"/>
<polygon points="518.60,264.20 528.40,262.45 528.40,265.95" fill="#141414"/>
<text x="504" y="262.3" font-size="13.2" text-anchor="middle" textLength="16.5" lengthAdjust="spacingAndGlyphs" xml:space="preserve">11.5</text>
<line x1="487.2" y1="397" x2="487.2" y2="418" stroke="#141414" stroke-width="0.95" stroke-linecap="butt"/>
<line x1="518.6" y1="397" x2="518.6" y2="418" stroke="#141414" stroke-width="0.95" stroke-linecap="butt"/>
<line x1="467.8" y1="412.2" x2="538.6" y2="412.2" stroke="#141414" stroke-width="0.95" stroke-linecap="butt"/>
<polygon points="487.20,412.20 477.40,413.95 477.40,410.45" fill="#141414"/>
<polygon points="518.60,412.20 528.40,410.45 528.40,413.95" fill="#141414"/>
<text x="504" y="410" font-size="13.2" text-anchor="middle" textLength="16.5" lengthAdjust="spacingAndGlyphs" xml:space="preserve">11.5</text>
<line x1="472.5" y1="495.6" x2="533" y2="495.6" stroke="#141414" stroke-width="0.95" stroke-linecap="butt"/>
<polygon points="492.30,495.60 482.50,497.35 482.50,493.85" fill="#141414"/>
<polygon points="513.60,495.60 523.40,493.85 523.40,497.35" fill="#141414"/>
<text x="503.8" y="493" font-size="13.2" text-anchor="middle" textLength="5.5" lengthAdjust="spacingAndGlyphs" xml:space="preserve">8</text>
<line x1="516" y1="107.8" x2="571" y2="107.8" stroke="#141414" stroke-width="0.95" stroke-linecap="butt"/>
<line x1="516" y1="640.5" x2="572" y2="640.5" stroke="#141414" stroke-width="0.95" stroke-linecap="butt"/>
<line x1="503" y1="673" x2="572" y2="673" stroke="#141414" stroke-width="0.95" stroke-linecap="butt"/>
<line x1="564.8" y1="108" x2="564.8" y2="673" stroke="#141414" stroke-width="0.95" stroke-linecap="butt"/>
<polygon points="564.80,107.80 566.55,117.60 563.05,117.60" fill="#141414"/>
<polygon points="564.80,640.50 563.05,630.70 566.55,630.70" fill="#141414"/>
<polygon points="564.80,640.50 566.55,650.30 563.05,650.30" fill="#141414"/>
<polygon points="564.80,673.00 563.05,663.20 566.55,663.20" fill="#141414"/>
<text x="563" y="374" font-size="13.2" text-anchor="middle" transform="rotate(-90 563 374)" textLength="18" lengthAdjust="spacingAndGlyphs" xml:space="preserve">209</text>
<text x="563" y="654" font-size="13.2" text-anchor="middle" transform="rotate(-90 563 654)" textLength="10.5" lengthAdjust="spacingAndGlyphs" xml:space="preserve">13</text>
<line x1="476.8" y1="640" x2="476.8" y2="717" stroke="#141414" stroke-width="0.95" stroke-linecap="butt"/>
<line x1="529.3" y1="650" x2="529.3" y2="717" stroke="#141414" stroke-width="0.95" stroke-linecap="butt"/>
<line x1="503" y1="655" x2="503" y2="700" stroke="#141414" stroke-width="0.95" stroke-linecap="butt"/>
<line x1="456.8" y1="691.5" x2="523" y2="691.5" stroke="#141414" stroke-width="0.95" stroke-linecap="butt"/>
<polygon points="476.80,691.50 467.00,693.25 467.00,689.75" fill="#141414"/>
<polygon points="503.00,691.50 512.80,689.75 512.80,693.25" fill="#141414"/>
<text x="491" y="689" font-size="13.2" text-anchor="middle" textLength="10.5" lengthAdjust="spacingAndGlyphs" xml:space="preserve">10</text>
<line x1="476.8" y1="709" x2="529.3" y2="709" stroke="#141414" stroke-width="0.95" stroke-linecap="butt"/>
<polygon points="476.80,709.00 486.60,707.25 486.60,710.75" fill="#141414"/>
<polygon points="529.30,709.00 519.50,710.75 519.50,707.25" fill="#141414"/>
<text x="504" y="707" font-size="13.2" text-anchor="middle" textLength="12.5" lengthAdjust="spacingAndGlyphs" xml:space="preserve">20</text>
<path d="M606.6,421.5 L606.6,446.5 L605.6,446.5 L605.6,644.5 L604.8,644.5 L604.8,659 Q605.5,672.6 619,672.6 L624,672.6 Q631,672.6 633.7,664.5 L636.5,662.3 L645.5,662.3 Q648.6,661.5 648.4,656 L647.9,650 L647.9,421.5 Z" fill="#d6d6d6" stroke="#141414" stroke-width="1.7" stroke-linejoin="round"/>
<rect x="636.7" y="447.6" width="11.099999999999909" height="15.0" rx="0" fill="#e8e8e8" stroke="#141414" stroke-width="1.2"/>
<rect x="636.7" y="585.9" width="11.099999999999909" height="15.700000000000045" rx="0" fill="#e8e8e8" stroke="#141414" stroke-width="1.2"/>
<line x1="618.7" y1="422" x2="618.7" y2="651" stroke="#141414" stroke-width="1.0" stroke-linecap="butt"/>
<line x1="638.8" y1="422" x2="638.8" y2="651" stroke="#141414" stroke-width="1.2" stroke-linecap="butt"/>
<line x1="620.5" y1="652.8" x2="637.3" y2="652.8" stroke="#141414" stroke-width="1.4" stroke-linecap="butt"/>
<line x1="636.8" y1="641" x2="636.8" y2="674" stroke="#141414" stroke-width="0.95" stroke-dasharray="9 2" stroke-linecap="butt"/>
<path d="M634.5,665.3 Q639,663 644.5,664.5 L643.5,668 L635,668 Z" fill="#fff" stroke="#141414" stroke-width="0.9" stroke-linejoin="miter"/>
<line x1="624.75" y1="454.9" x2="628.75" y2="454.9" stroke="#141414" stroke-width="0.95" stroke-linecap="butt"/>
<line x1="636.75" y1="442.9" x2="636.75" y2="467.4" stroke="#141414" stroke-width="0.95" stroke-linecap="butt"/>
<circle cx="636.75" cy="454.9" r="7.9" fill="#d6d6d6" stroke="#141414" stroke-width="2.0"/>
<path d="M636.75,450.59999999999997 L637.95,453.7 L641.05,454.9 L637.95,456.09999999999997 L636.75,459.2 L635.55,456.09999999999997 L632.45,454.9 L635.55,453.7 Z" fill="#f0f0f0" stroke="#141414" stroke-width="0.8" stroke-linejoin="miter"/>
<line x1="624.75" y1="593.5" x2="628.75" y2="593.5" stroke="#141414" stroke-width="0.95" stroke-linecap="butt"/>
<line x1="636.75" y1="581.5" x2="636.75" y2="606.0" stroke="#141414" stroke-width="0.95" stroke-linecap="butt"/>
<circle cx="636.75" cy="593.5" r="7.9" fill="#d6d6d6" stroke="#141414" stroke-width="2.0"/>
<path d="M636.75,589.2 L637.95,592.3 L641.05,593.5 L637.95,594.7 L636.75,597.8 L635.55,594.7 L632.45,593.5 L635.55,592.3 Z" fill="#f0f0f0" stroke="#141414" stroke-width="0.8" stroke-linejoin="miter"/>
<path d="M617,413.8 L617,367 Q617,362 622,362 L632.5,362 Q637.5,362 637.5,367 L637.5,413.8 Z" fill="#d6d6d6" stroke="#141414" stroke-width="1.4" stroke-linejoin="miter"/>
<path d="M612.6,413.5 L638,387.6 L642.3,387.6 L642.3,413.8 Z" fill="#d6d6d6" stroke="#141414" stroke-width="1.4" stroke-linejoin="miter"/>
<line x1="634.7" y1="391" x2="634.7" y2="413.5" stroke="#141414" stroke-width="1.3" stroke-linecap="butt"/>
<rect x="601.7" y="414.2" width="51.09999999999991" height="7.0" rx="0" fill="#d6d6d6" stroke="#141414" stroke-width="1.7"/>
<line x1="606.8" y1="414.2" x2="606.8" y2="421.2" stroke="#141414" stroke-width="0.95" stroke-linecap="butt"/>
<line x1="648.0" y1="414.2" x2="648.0" y2="421.2" stroke="#141414" stroke-width="0.95" stroke-linecap="butt"/>
<line x1="601.5" y1="324.5" x2="601.5" y2="414" stroke="#141414" stroke-width="0.95" stroke-linecap="butt"/>
<line x1="653" y1="324.5" x2="653" y2="414" stroke="#141414" stroke-width="0.95" stroke-linecap="butt"/>
<line x1="606.8" y1="343" x2="606.8" y2="414" stroke="#141414" stroke-width="0.95" stroke-linecap="butt"/>
<line x1="648.3" y1="343" x2="648.3" y2="414" stroke="#141414" stroke-width="0.95" stroke-linecap="butt"/>
<line x1="601.5" y1="331.6" x2="653" y2="331.6" stroke="#141414" stroke-width="0.95" stroke-linecap="butt"/>
<polygon points="601.50,331.60 611.30,329.85 611.30,333.35" fill="#141414"/>
<polygon points="653.00,331.60 643.20,333.35 643.20,329.85" fill="#141414"/>
<text x="628" y="329" font-size="13.2" text-anchor="middle" textLength="12.5" lengthAdjust="spacingAndGlyphs" xml:space="preserve">20</text>
<line x1="606.8" y1="349.4" x2="673.3" y2="349.4" stroke="#141414" stroke-width="0.95" stroke-linecap="butt"/>
<polygon points="606.80,349.40 616.60,347.65 616.60,351.15" fill="#141414"/>
<polygon points="648.30,349.40 638.50,351.15 638.50,347.65" fill="#141414"/>
<polygon points="653.00,349.40 662.80,347.65 662.80,351.15" fill="#141414"/>
<text x="628.8" y="346.8" font-size="13.2" text-anchor="middle" textLength="11.5" lengthAdjust="spacingAndGlyphs" xml:space="preserve">16</text>
<text x="670.7" y="347" font-size="13.2" text-anchor="middle" textLength="5.5" lengthAdjust="spacingAndGlyphs" xml:space="preserve">2</text>
<line x1="604.8" y1="664" x2="604.8" y2="716" stroke="#141414" stroke-width="0.95" stroke-linecap="butt"/>
<line x1="651.6" y1="625.5" x2="651.6" y2="716" stroke="#141414" stroke-width="0.95" stroke-linecap="butt"/>
<line x1="604.8" y1="709.5" x2="651.6" y2="709.5" stroke="#141414" stroke-width="0.95" stroke-linecap="butt"/>
<polygon points="604.80,709.50 614.60,707.75 614.60,711.25" fill="#141414"/>
<polygon points="651.60,709.50 641.80,711.25 641.80,707.75" fill="#141414"/>
<text x="629.6" y="706.8" font-size="13.2" text-anchor="middle" textLength="11" lengthAdjust="spacingAndGlyphs" xml:space="preserve">18</text>
</svg>
</body></html>
